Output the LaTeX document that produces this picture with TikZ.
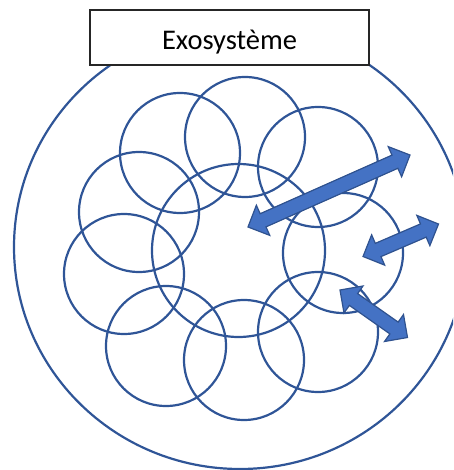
\documentclass[tikz,border=0pt]{standalone}
\usepackage{fontspec}
\setmainfont{Carlito}
\usetikzlibrary{calc}

\definecolor{ringblue}{HTML}{2F5597}
\definecolor{arrowfill}{HTML}{4472C4}
\definecolor{arrowline}{HTML}{2F528F}

\tikzset{
  ring/.style={circle, draw=ringblue, line width=2.2pt, inner sep=0pt, minimum size=120pt},
  hub/.style={circle, draw=ringblue, line width=2.2pt, inner sep=0pt, minimum size=173pt},
  labelbox/.style={draw=black!85, line width=1.1pt, fill=white},
  arrowbody/.style={fill=arrowfill, draw=arrowline, line width=1.2pt, line join=miter},
}

% double-headed block arrow between two named points
\newcommand{\hl}{16.5pt} % head length
\newcommand{\hw}{16.5pt} % half width of the head
\newcommand{\sw}{7.2pt}  % half width of the shaft
\newcommand{\blockdbl}[2]{%
  \draw[arrowbody] (#1)
    -- ($(#1)!\hl!(#2)!\hw!90:(#2)$)
    -- ($(#1)!\hl!(#2)!\sw!90:(#2)$)
    -- ($(#2)!\hl!(#1)!\sw!-90:(#1)$)
    -- ($(#2)!\hl!(#1)!\hw!-90:(#1)$)
    -- (#2)
    -- ($(#2)!\hl!(#1)!\hw!90:(#1)$)
    -- ($(#2)!\hl!(#1)!\sw!90:(#1)$)
    -- ($(#1)!\hl!(#2)!\sw!-90:(#2)$)
    -- ($(#1)!\hl!(#2)!\hw!-90:(#2)$)
    -- cycle;}

\begin{document}
\begin{tikzpicture}[x=1pt, y=-1pt]
  \useasboundingbox (0,0) rectangle (453,470);
  \clip (0,0) rectangle (453,470);

  % outer environment
  \draw[ringblue, line width=2.2pt] (240,247) ellipse [x radius=226pt, y radius=222pt];

  % central circle and the ring of circles around it
  \node[hub] (hub) at (238.5,250.5) {};
  \node[ring] (c1) at (180,153) {};
  \node[ring] (c2) at (245,137) {};
  \node[ring] (c3) at (318,167) {};
  \node[ring] (c4) at (343,253) {};
  \node[ring] (c5) at (318,332) {};
  \node[ring] (c6) at (244,360) {};
  \node[ring] (c7) at (166,346) {};
  \node[ring] (c8) at (124,274) {};
  \node[ring] (c9) at (139,212) {};

  % exchange arrows
  \coordinate (a1s) at (248,227);
  \coordinate (a1e) at (410,155);
  \coordinate (a2s) at (363,256.5);
  \coordinate (a2e) at (438.5,224);
  \coordinate (a3s) at (340,290);
  \coordinate (a3e) at (407.5,337.5);
  \blockdbl{a1s}{a1e}
  \blockdbl{a2s}{a2e}
  \blockdbl{a3s}{a3e}

  % title box
  \draw[labelbox] (90,10) rectangle (369,65);
  \node[anchor=base, inner sep=0pt, font=\fontsize{28.5}{34}\selectfont] (title) at (229.5,50) {Exosystème};
\end{tikzpicture}
\end{document}
